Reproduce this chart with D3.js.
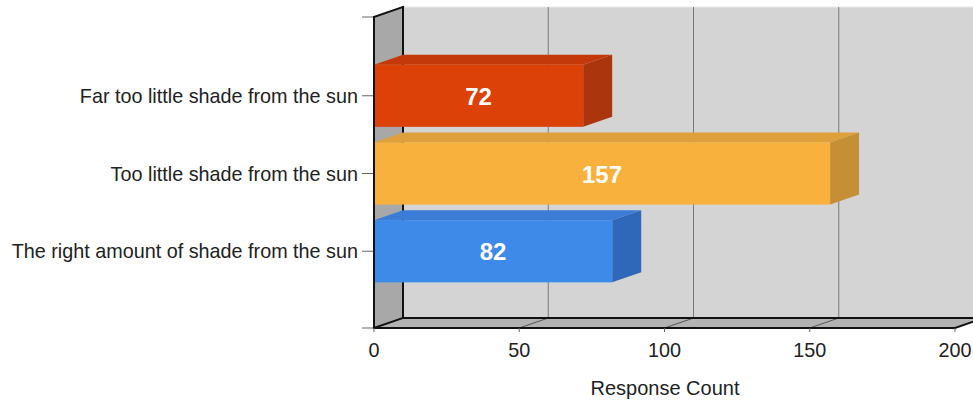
<!DOCTYPE html>
<html><head><meta charset="utf-8">
<script src="https://cdn.jsdelivr.net/npm/d3@7"></script>
<style>body{margin:0;background:#fff}svg{display:block}text{font-family:Arial,"Liberation Sans",sans-serif}</style>
</head><body><svg id="c" width="973" height="404"></svg>
<script>
const categories = ["Far too little shade from the sun","Too little shade from the sun","The right amount of shade from the sun"];
const values = [72,157,82];
const frontColors = ["#dc4108","#f9b13e","#3e8ae8"];
const topColors = ["#c4390a","#dea03a","#3a7cd6"];
const sideColors = ["#ab350c","#c48f35","#2f68b8"];
const xTicks = [0,50,100,150,200];
const xTitle = "Response Count";

(function(){
const svg = d3.select("#c");
const x = d3.scaleLinear().domain([0,200]).range([374,955]);
const y = d3.scalePoint().domain(categories).range([18,329]).padding(1);
const dx = 29, dy = -10;
const yTop = 17, yBot = 328;
const bh = y.step()*0.8;
const pts = a => a.map(p=>p.join(",")).join(" ");

svg.append("rect").attr("x",x(0)+dx).attr("y",yTop+dy).attr("width",973-(x(0)+dx)).attr("height",yBot-yTop).attr("fill","#d4d4d4");
svg.append("line").attr("x1",x(0)+dx).attr("x2",973).attr("y1",yTop+dy).attr("y2",yTop+dy).attr("stroke","#e8e8e8");
xTicks.slice(1).forEach(v=>{
  svg.append("line").attr("x1",x(v)+dx).attr("x2",x(v)+dx).attr("y1",yTop+dy).attr("y2",yBot+dy).attr("stroke","#7a7a7a").attr("stroke-width",1);
});
svg.append("polygon").attr("points",pts([[x(0),yBot],[x(200),yBot],[x(200)+dx,yBot+dy],[x(0)+dx,yBot+dy]])).attr("fill","#b2b2b2");
xTicks.slice(1,-1).forEach(v=>{
  svg.append("line").attr("x1",x(v)).attr("y1",yBot).attr("x2",x(v)+dx).attr("y2",yBot+dy).attr("stroke","#555").attr("stroke-width",1);
});
svg.append("polygon").attr("points",pts([[x(0),yTop],[x(0)+dx,yTop+dy],[x(0)+dx,yBot+dy],[x(0),yBot]])).attr("fill","#a8a8a8");
const blk = (x1,y1,x2,y2,w)=>svg.append("line").attr("x1",x1).attr("y1",y1).attr("x2",x2).attr("y2",y2).attr("stroke","#111").attr("stroke-width",w||2).attr("stroke-linecap","square");
blk(x(0),yTop,x(0)+dx,yTop+dy);
blk(x(0)+dx,yTop+dy,x(0)+dx,yBot+dy);
blk(x(0)+dx,yBot+dy,973,yBot+dy);
blk(x(0),yBot,x(0)+dx,yBot+dy);
blk(x(200),yBot,x(200)+dx,yBot+dy);

[yTop,...categories.map(c=>y(c)),yBot].forEach(t=>{
  svg.append("line").attr("x1",362).attr("x2",x(0)).attr("y1",t).attr("y2",t).attr("stroke","#666").attr("stroke-width",1);
});

const g = svg.append("g");
categories.forEach((c,i)=>{
  const yt = y(c)-bh/2, yb = y(c)+bh/2, x0 = x(0), x1 = x(values[i]);
  g.append("polygon").attr("points",pts([[x0,yt],[x1,yt],[x1+dx,yt+dy],[x0+dx,yt+dy]])).attr("fill",topColors[i]);
  g.append("polygon").attr("points",pts([[x1,yt],[x1+dx,yt+dy],[x1+dx,yb+dy],[x1,yb]])).attr("fill",sideColors[i]);
  g.append("rect").attr("x",x0).attr("y",yt).attr("width",x1-x0).attr("height",bh).attr("fill",frontColors[i]);
  g.append("text").attr("x",(x0+x1)/2).attr("y",y(c)+9).attr("text-anchor","middle").attr("fill","#fff").attr("font-weight","bold").attr("font-size",24).text(values[i]);
});

blk(x(0),yTop,x(0),yBot);
blk(x(0),yBot,x(200),yBot);

categories.forEach(c=>{
  svg.append("text").attr("x",358).attr("y",y(c)+7).attr("text-anchor","end").attr("font-size",19.8).attr("fill","#222").text(c);
});
xTicks.forEach(v=>{
  svg.append("line").attr("x1",x(v)).attr("x2",x(v)).attr("y1",yBot).attr("y2",yBot+4).attr("stroke","#666");
  svg.append("text").attr("x",x(v)).attr("y",357).attr("text-anchor","middle").attr("font-size",19.8).attr("fill","#222").text(v);
});
svg.append("text").attr("x",665).attr("y",395).attr("text-anchor","middle").attr("font-size",20).attr("fill","#222").text(xTitle);
})();
</script></body></html>
